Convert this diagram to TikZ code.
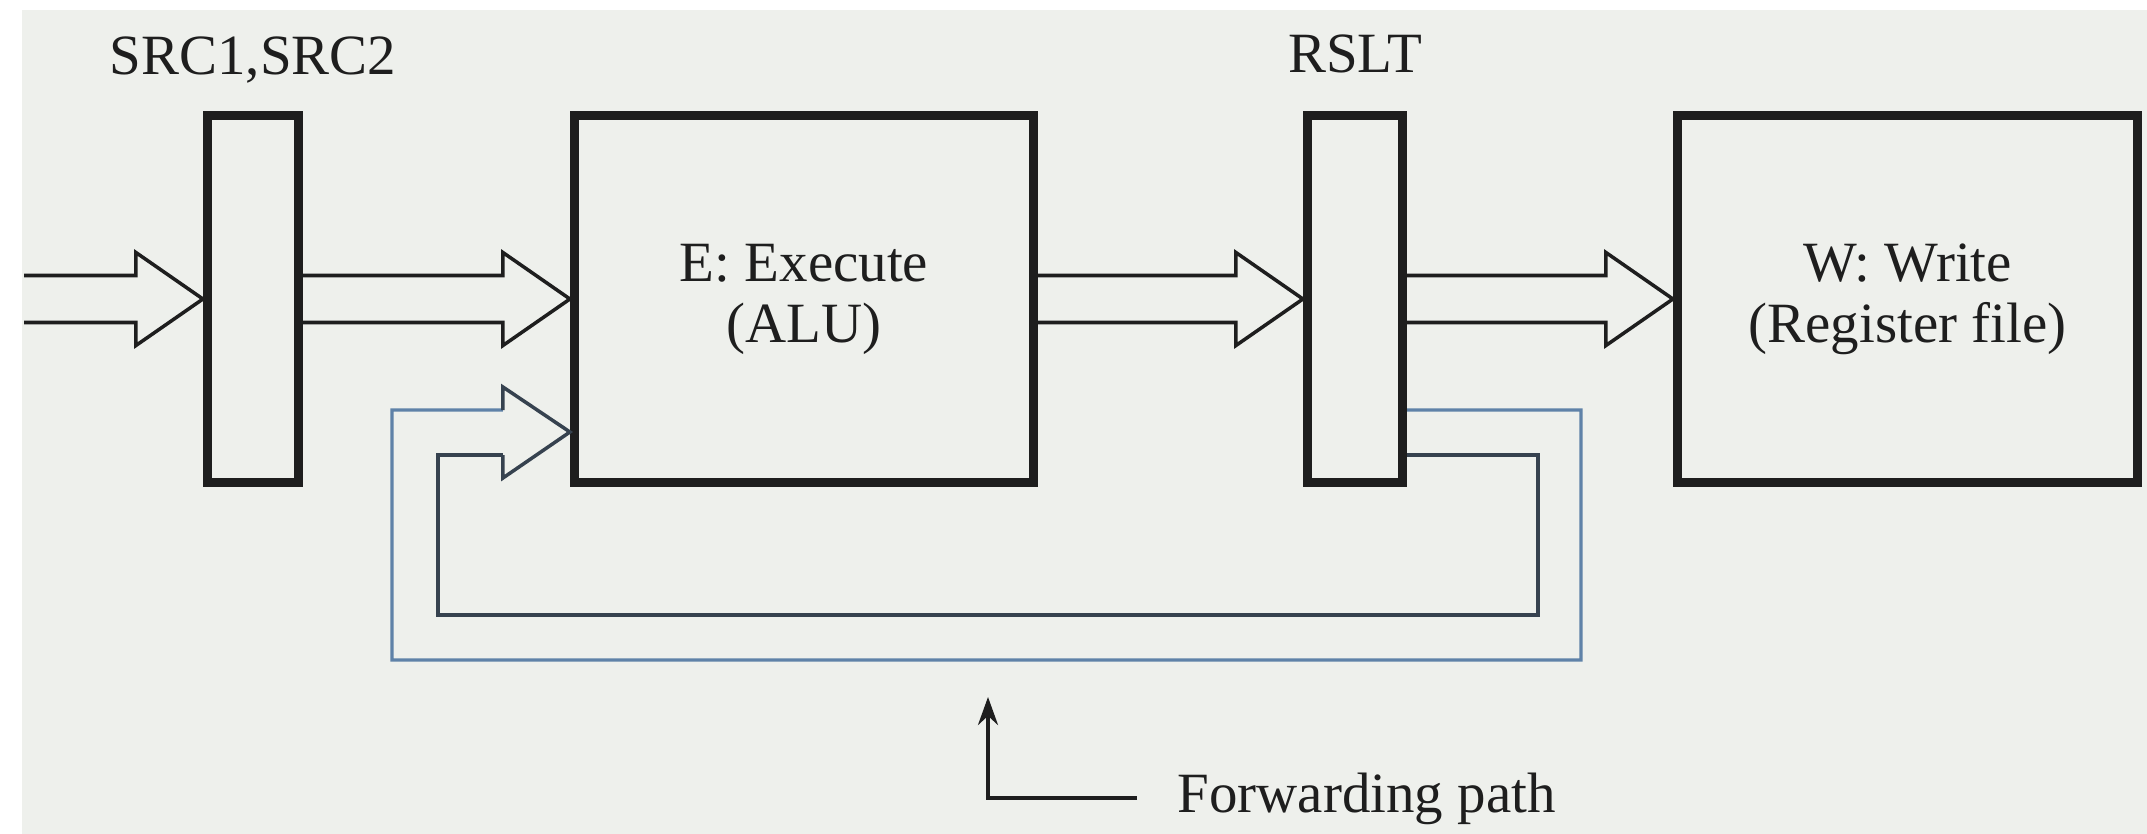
\documentclass[tikz,border=0pt]{standalone}
\usepackage{fontspec}
\setmainfont{Liberation Serif}
\usetikzlibrary{arrows.meta,positioning,calc}
\definecolor{paper}{HTML}{EEF0EC}
\definecolor{ink}{HTML}{1E1E1E}
\definecolor{fwdblue}{HTML}{5F82A8}
\definecolor{fwddark}{HTML}{36424F}
% hollow bus arrow: tail point, tip point
\newcommand{\busarrow}[2]{%
  \draw[bus] let \p1=(#1), \p2=(#2) in
    (\x1,\y2+2.35mm) -- (\x2-6.7mm,\y2+2.35mm) -- (\x2-6.7mm,\y2+4.65mm) -- (\p2)
    -- (\x2-6.7mm,\y2-4.65mm) -- (\x2-6.7mm,\y2-2.35mm) -- (\x1,\y2-2.35mm);}

\begin{document}
\begin{tikzpicture}[font=\fontsize{16.2}{17.4}\selectfont,
reg/.style={draw=ink,line width=2.6pt,minimum height=3.67cm,inner sep=0pt},
stage/.style={reg,align=center,text=ink},
lbl/.style={inner sep=0pt,text=ink},
bus/.style={draw=ink,line width=1pt,line join=miter},
fwdout/.style={draw=fwdblue,line width=.9pt},
fwdin/.style={draw=fwddark,line width=.9pt},
ptr/.style={-{Stealth[length=2.8mm,width=2mm]},line width=1.1pt,draw=ink}]
\useasboundingbox (0,0) rectangle (21.47,-8.34);
\fill[white] (0,0) rectangle (21.47,-8.34);
\fill[paper] (0.22,-0.10) rectangle (21.47,-8.34);
\node[reg,minimum width=.91cm] (src) at (2.53,-2.99) {};
\node[stage,minimum width=4.59cm] (exec) at (8.04,-2.99) {E: Execute\\(ALU)};
\node[reg,minimum width=.95cm] (rslt) at (13.55,-2.99) {};
\node[stage,minimum width=4.60cm] (write) at (19.075,-2.99) {W: Write\\(Register file)};
\node[lbl,anchor=base] (srctag) at ([yshift=.36cm]src.north) {SRC1,SRC2};
\node[lbl,anchor=base] (rslttag) at ([yshift=.38cm]rslt.north) {RSLT};
\coordinate (in) at (0.24,-2.99);
\busarrow{in}{src.west}
\busarrow{src.east}{exec.west}
\busarrow{exec.east}{rslt.west}
\busarrow{rslt.east}{write.west}
% forwarding path
\coordinate (fwdtip) at ([yshift=-1.33cm]exec.west);
\draw[fwdout] ([yshift=-1.11cm]rslt.east) -| (15.81,-6.60) -| (3.92,-4.10) -- ([shift={(-.67,.22)}]fwdtip);
\draw[fwdin] ([shift={(-.67,-.23)}]fwdtip) -| (4.38,-6.15) -| (15.38,-4.55) -- ([yshift=-1.56cm]rslt.east);
\draw[bus,draw=fwddark] ([shift={(-.67,.22)}]fwdtip) -- ([shift={(-.67,.45)}]fwdtip) -- (fwdtip)
  -- ([shift={(-.67,-.46)}]fwdtip) -- ([shift={(-.67,-.23)}]fwdtip);
\node[lbl,anchor=base west] (fwdtag) at (11.77,-8.12) {Forwarding path};
\draw[ptr] ([xshift=-.40cm]fwdtag.west) -| (9.88,-6.97);
\end{tikzpicture}
\end{document}
